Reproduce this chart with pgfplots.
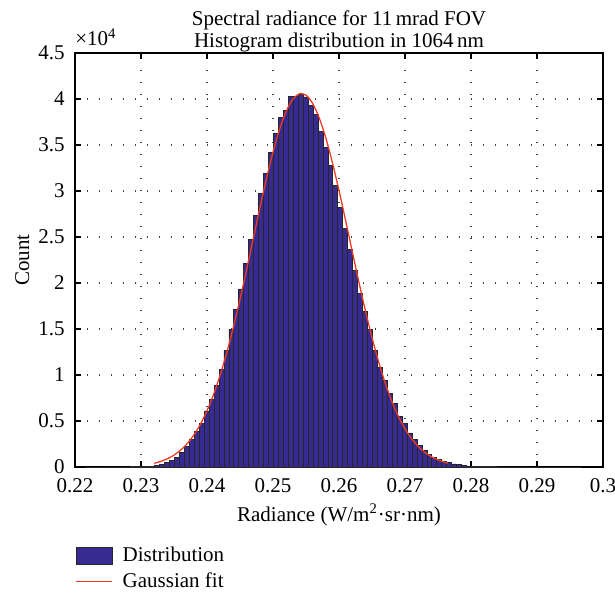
\documentclass[border=0pt]{standalone}
\usepackage{fontspec}
\setmainfont{Liberation Serif}
\usepackage{pgfplots}
\pgfplotsset{compat=1.18}

\definecolor{barblue}{RGB}{55,43,145}
\definecolor{fitred}{RGB}{238,58,36}
\pgfplotsset{
  barlegend/.style={legend image code/.code={\draw[##1] (0pt,-4.15pt) rectangle (18pt,4.15pt);}},
  linelegend/.style={legend image code/.code={\draw[##1, draw=fitred, line width=0.65pt] (0pt,0pt) -- (18pt,0pt);}},
}

\begin{document}
\fontsize{10.5}{12.6}\selectfont
\begin{tikzpicture}
\begin{axis}[
  scale only axis, width=264pt, height=207pt,
  xmin=0.22, xmax=0.30, ymin=0, ymax=45000,
  ybar, bar width=0.00075, bar shift=0pt,
  xtick={0.22,0.23,0.24,0.25,0.26,0.27,0.28,0.29,0.30},
  xticklabels={0.22,0.23,0.24,0.25,0.26,0.27,0.28,0.29,0.3},
  ytick={0,5000,10000,15000,20000,25000,30000,35000,40000,45000},
  yticklabels={0,0.5,1,1.5,2,2.5,3,3.5,4,4.5},
  scaled y ticks=false, scaled x ticks=false,
  tick align=inside, tick pos=both, major tick length=3pt,
  every tick/.style={black, line width=0.6pt},
  axis line style={line width=0.6pt},
  grid=major,
  major grid style={black!75, line width=0.6pt, dash pattern=on 0.6pt off 5.4pt},
  xticklabel style={yshift=-2pt},
  yticklabel style={xshift=-1.5pt},
  xlabel={Radiance (W/m\textsuperscript{2}·sr·nm)},
  xlabel style={at={(axis description cs:0.5,0)}, anchor=center, yshift=-24pt},
  ylabel={Count},
  ylabel style={at={(axis description cs:-0.1,0.5)}, anchor=center},
  title={Spectral radiance for 11\,mrad FOV\\Histogram distribution in 1064\,nm},
  every axis title/.style={at={(axis description cs:0.5,1)}, anchor=south, inner sep=0pt,
    yshift=0.3pt, align=center, font=\fontsize{10.5}{11}\selectfont},
  legend style={draw=none, fill=none, at={(axis description cs:0,-0.182)},
    anchor=north west, inner sep=0pt, row sep=0pt,
    /tikz/every odd column/.append style={column sep=3pt}},
  legend cell align=left,
  extra description/.code={
    \node[anchor=base west, inner sep=0pt] at ([yshift=3.5pt]axis description cs:0,1)
      {×10\textsuperscript{4}};
  },
]
\addplot[fill=barblue, draw=black!85, line width=0.4pt, barlegend]
coordinates {(0.22195,1)(0.22270,0)(0.22345,1)(0.22420,1)(0.22495,2)(0.22570,2)(0.22645,3)(0.22720,5)(0.22795,8)(0.22870,13)(0.22945,22)(0.23020,38)(0.23095,65)(0.23170,108)(0.23245,180)(0.23320,290)(0.23395,460)(0.23470,720)(0.23545,1080)(0.23620,1580)(0.23695,2250)(0.23770,3040)(0.23845,3910)(0.23920,4780)(0.23995,6090)(0.24070,7320)(0.24145,8840)(0.24220,10580)(0.24295,12680)(0.24370,14930)(0.24445,17170)(0.24520,19350)(0.24595,22170)(0.24670,24780)(0.24745,27320)(0.24820,29780)(0.24895,31880)(0.24970,34200)(0.25045,36300)(0.25120,38040)(0.25195,38800)(0.25270,40300)(0.25345,40300)(0.25420,40520)(0.25495,40220)(0.25570,39260)(0.25645,38320)(0.25720,36520)(0.25795,34780)(0.25870,32820)(0.25945,30580)(0.26020,28260)(0.26095,25940)(0.26170,23690)(0.26245,21340)(0.26320,18840)(0.26395,16880)(0.26470,14930)(0.26545,12680)(0.26620,10870)(0.26695,9420)(0.26770,7970)(0.26845,6880)(0.26920,5510)(0.26995,4710)(0.27070,3700)(0.27145,3040)(0.27220,2320)(0.27295,1800)(0.27370,1380)(0.27445,1060)(0.27520,820)(0.27595,620)(0.27670,460)(0.27745,330)(0.27820,230)(0.27895,160)(0.27970,105)(0.28045,70)(0.28120,45)(0.28195,30)(0.28270,20)(0.28345,13)(0.28420,9)(0.28495,6)(0.28570,4)(0.28645,3)(0.28720,2)(0.28795,2)(0.28870,1)(0.28945,1)(0.29020,1)(0.29095,0)(0.29170,1)(0.29245,0)(0.29320,0)(0.29395,1)(0.29470,0)(0.29545,0)(0.29620,1)};
\addlegendentry{Distribution}
\addplot[fitred, line width=0.65pt, smooth, mark=none, linelegend]
coordinates {(0.2320,407)(0.2330,609)(0.2340,896)(0.2350,1292)(0.2360,1830)(0.2370,2544)(0.2380,3472)(0.2390,4652)(0.2400,6118)(0.2410,7898)(0.2420,10009)(0.2430,12453)(0.2440,15210)(0.2450,18233)(0.2460,21460)(0.2470,24793)(0.2480,28117)(0.2490,31305)(0.2500,34214)(0.2510,36707)(0.2520,38660)(0.2530,39970)(0.2540,40566)(0.2550,40416)(0.2560,39529)(0.2570,37951)(0.2580,35768)(0.2590,33093)(0.2600,30056)(0.2610,26797)(0.2620,23454)(0.2630,20151)(0.2640,16995)(0.2650,14072)(0.2660,11436)(0.2670,9124)(0.2680,7147)(0.2690,5495)(0.2700,4147)(0.2710,3073)(0.2720,2235)(0.2730,1596)(0.2740,1118)(0.2750,769)(0.2760,520)(0.2765,424)};
\addlegendentry{Gaussian fit}
\coordinate (sw) at (rel axis cs:0,0);
\coordinate (ne) at (rel axis cs:1,1);
\end{axis}
\pgfresetboundingbox
\path ([shift={(-37.5pt,-62.5pt)}]sw) rectangle ([shift={(6pt,26.5pt)}]ne);
\end{tikzpicture}
\end{document}
